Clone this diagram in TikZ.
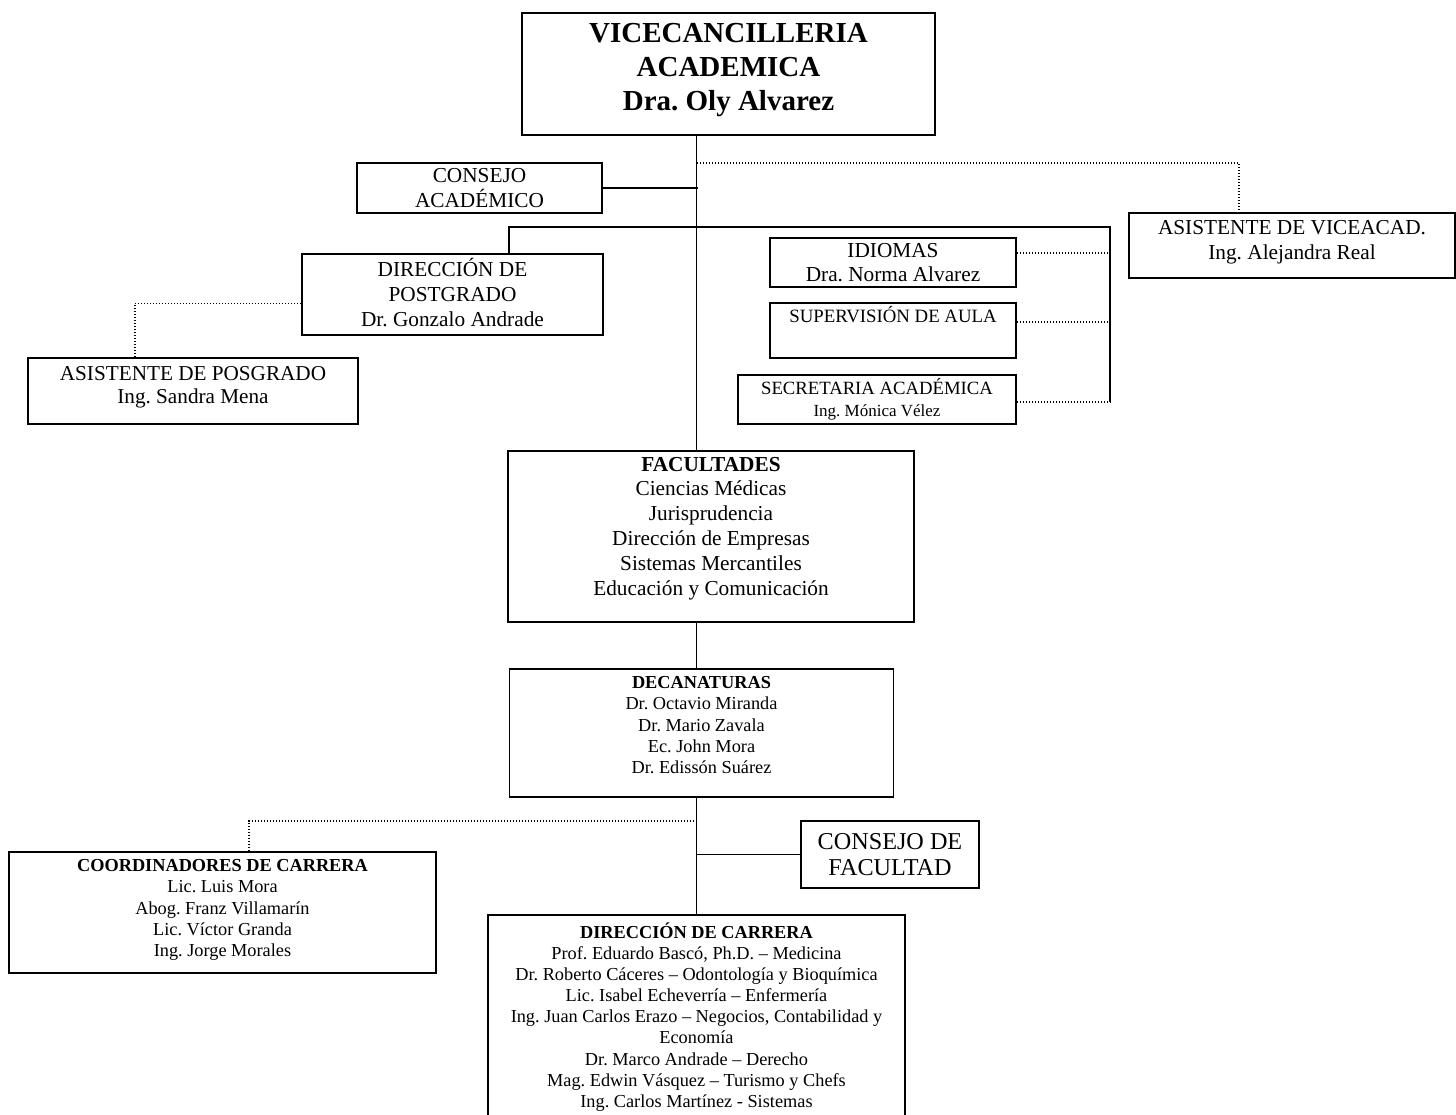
\documentclass[tikz,border=0pt]{standalone}
\usepackage{fontspec}
\setmainfont{Liberation Serif}
\usepackage{tikz}
\usetikzlibrary{positioning,calc}
\frenchspacing

\begin{document}
\begin{tikzpicture}[x=1pt, y=-1pt,
  unit/.style={draw, line width=1.6pt, align=center, inner sep=0pt},
  link/.style={line width=1.8pt},
  dotlink/.style={line width=1.1pt, dash pattern=on 1.1pt off 1.9pt},
  big/.style={font=\fontsize{29}{34}\selectfont\bfseries},
  mid/.style={font=\fontsize{21.3}{24.8}\selectfont},
  small/.style={font=\fontsize{18.3}{21.2}\selectfont}]
\useasboundingbox (0,0) rectangle (1456,1115);

% Top level
\node[unit, big, minimum width=413, minimum height=122] (vice) at (728.5,74)
  {VICECANCILLERIA\\ACADEMICA\\Dra. Oly Alvarez\\[-20pt]};
\node[unit, mid, minimum width=245, minimum height=50] (consejoAc) at (479.5,188)
  {CONSEJO\\ACADÉMICO};
\node[unit, mid, minimum width=326, minimum height=65] (asisVice) at (1292,245.5)
  {ASISTENTE DE VICEACAD.\\Ing. Alejandra Real\\[-13.8pt]};

% Second level
\node[unit, mid, minimum width=301, minimum height=81] (postgrado) at (452.5,294.5)
  {DIRECCIÓN DE\\POSTGRADO\\Dr. Gonzalo Andrade\\[-20pt]};
\node[unit, font=\fontsize{21.2}{23}\selectfont, minimum width=330, minimum height=66] (asisPos) at (193,391)
  {ASISTENTE DE POSGRADO\\Ing. Sandra Mena\\[-10pt]};
\node[unit, mid, minimum width=246, minimum height=49] (idiomas) at (893,262.5)
  {IDIOMAS\\Dra. Norma Alvarez};
\node[unit, font=\fontsize{18.8}{21.2}\selectfont, minimum width=246, minimum height=55] (supervision) at (893,330.5)
  {SUPERVISIÓN DE AULA\\[11pt]\mbox{}};
\node[unit, font=\fontsize{18.7}{21.6}\selectfont, minimum width=278, minimum height=49] (secretaria) at (877,399.5)
  {SECRETARIA ACADÉMICA\\{\fontsize{17}{20}\selectfont Ing. Mónica Vélez}};

% Faculties
\node[unit, mid, minimum width=406, minimum height=171] (facultades) at (711,536.5)
  {\textbf{FACULTADES}\\Ciencias Médicas\\Jurisprudencia\\Dirección de Empresas\\Sistemas Mercantiles\\Educación y Comunicación\\[-3.8pt]};
\node[unit, small, minimum width=384, minimum height=128] (decanaturas) at (701.5,733)
  {\textbf{DECANATURAS}\\Dr. Octavio Miranda\\Dr. Mario Zavala\\Ec. John Mora\\Dr. Edissón Suárez\\[-5.2pt]};
\node[unit, font=\fontsize{24.2}{26.5}\selectfont, minimum width=178, minimum height=67] (consejoFac) at (890,854.5)
  {CONSEJO DE\\FACULTAD};
\node[unit, small, minimum width=427, minimum height=121] (coordinadores) at (222.5,912.5)
  {\textbf{COORDINADORES DE CARRERA}\\Lic. Luis Mora\\Abog. Franz Villamarín\\Lic. Víctor Granda\\Ing. Jorge Morales\\[-12.2pt]};
\node[unit, font=\fontsize{18.3}{21.1}\selectfont, minimum width=417, minimum height=206] (carrera) at (696.5,1018)
  {\textbf{DIRECCIÓN DE CARRERA}\\Prof. Eduardo Bascó, Ph.D. – Medicina\\Dr. Roberto Cáceres – Odontología y Bioquímica\\Lic. Isabel Echeverría – Enfermería\\Ing. Juan Carlos Erazo – Negocios, Contabilidad y\\Economía\\Dr. Marco Andrade – Derecho\\Mag. Edwin Vásquez – Turismo y Chefs\\Ing. Carlos Martínez - Sistemas\\[-15.1pt]};

% Junction points
\coordinate (axis) at (vice.south -| carrera.north);
\coordinate (viceTap) at (697,163);
\coordinate (asisTap) at (1239,213);
\coordinate (postTap) at (509,254);
\coordinate (bracketTop) at (1110,227);
\coordinate (bracketBot) at (1110,402);
\coordinate (posTap) at (135,358);
\coordinate (decTap) at (697,821);
\coordinate (coordTap) at (249,852);

% Solid links
\draw[link] (axis) -- (facultades.north -| axis);
\draw[link] (facultades.south -| axis) -- (decanaturas.north -| axis);
\draw[link] (decanaturas.south -| axis) -- (carrera.north);
\draw[link] (consejoAc.east) -- ++(95,0);
\draw[link] (postTap) |- (bracketTop) -- (bracketBot);
\draw[link] (consejoFac.west) -- (consejoFac.west -| axis);

% Dotted links
\draw[dotlink] (viceTap) -| (asisTap);
\draw[dotlink] ([yshift=-9pt]postgrado.west) -| (posTap);
\draw[dotlink] ([yshift=9.5pt]idiomas.east) -- ([yshift=9.5pt]idiomas.east -| bracketTop);
\draw[dotlink] ([yshift=8.5pt]supervision.east) -- ([yshift=8.5pt]supervision.east -| bracketTop);
\draw[dotlink] ([yshift=-2.5pt]secretaria.east) -- (bracketBot);
\draw[dotlink] (decTap) -| (coordTap);
\end{tikzpicture}
\end{document}
